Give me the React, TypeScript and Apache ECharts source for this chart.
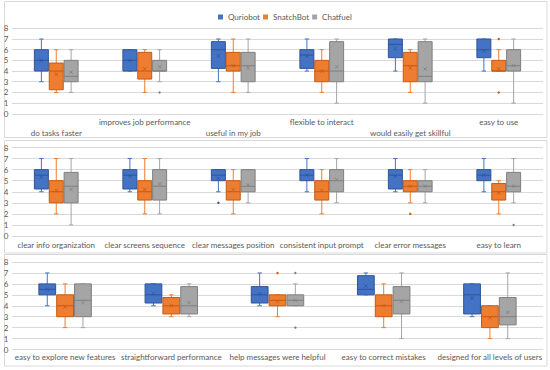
import React, { useEffect, useRef } from "react";
import * as echarts from "echarts";

const seriesNames = ["Quriobot", "SnatchBot", "Chatfuel"];
const COLORS = ["#4472C4", "#ED7D31", "#A5A5A5"];
const BORDERS = ["#2F5597", "#C55A11", "#7F7F7F"];

const categories1 = ["do tasks faster", "improves job performance", "useful in my job", "flexible to interact", "would easily get skillful", "easy to use"];
const categories2 = ["clear info organization", "clear screens sequence", "clear messages position", "consistent input prompt", "clear error messages", "easy to learn"];
const categories3 = ["easy to explore new features", "straightforward performance", "help messages were helpful", "easy to correct mistakes", "designed for all levels of users"];

// [min, q1, median, q3, max]
const quriobot1 = [[3, 4, 5, 6, 7], [4, 4, 5, 6, 6], [3, 4.25, 6, 6.75, 7], [4, 4.25, 5.5, 6, 7], [4, 5.25, 6.5, 7, 7], [4, 5.25, 6, 7, 7]];
const quriobotMean1 = [5.0, 5.0, 5.4, 5.4, 6.1, 5.9];
const quriobotOut1: number[][] = [];
const snatchbot1 = [[2, 2.25, 4, 4.75, 6], [2, 3.25, 4, 5.75, 6], [2, 4, 4.5, 5.75, 7], [2, 3, 4, 5, 6], [2, 3, 4.5, 5.75, 6], [4, 4, 4, 5, 6]];
const snatchbotMean1 = [3.7, 4.2, 4.5, 4.0, 4.3, 4.2];
const snatchbotOut1 = [[5, 7], [5, 2]];
const chatfuel1 = [[2, 3, 3.5, 5, 6], [3, 4, 4, 5, 6], [2, 3, 4.5, 5.75, 7], [1, 3, 4, 6.75, 7], [1, 3, 3.5, 6.75, 7], [1, 4, 4.5, 6, 7]];
const chatfuelMean1 = [3.9, 4.4, 4.3, 4.4, 4.2, 4.5];
const chatfuelOut1 = [[1, 2]];

const quriobot2 = [[4, 4.25, 5.5, 6, 7], [4, 4.25, 5.5, 6, 7], [4, 5, 5.5, 6, 6], [4, 5, 5.5, 6, 7], [4, 4.25, 5.5, 6, 7], [4, 5, 5.5, 6, 7]];
const quriobotMean2 = [5.3, 5.4, 5.2, 5.5, 5.4, 5.5];
const quriobotOut2 = [[2, 3]];
const snatchbot2 = [[2, 3, 4, 5, 7], [2, 3.25, 4, 5, 7], [2, 3.25, 4, 5, 6], [2, 3.25, 4, 5, 6], [3, 4, 4.5, 5, 6], [2, 3.25, 4, 4.75, 5]];
const snatchbotMean2 = [4.1, 4.2, 4.2, 4.1, 4.5, 3.9];
const snatchbotOut2 = [[4, 2]];
const chatfuel2 = [[1, 3, 4.5, 5.75, 7], [2, 3.25, 4.5, 6, 7], [3, 4, 4.5, 6, 6], [3, 4, 5, 6, 7], [3, 4, 4.5, 5, 6], [3, 4, 4.5, 5.75, 7]];
const chatfuelMean2 = [4.2, 4.7, 4.6, 5.1, 4.5, 4.5];
const chatfuelOut2 = [[5, 1]];

const quriobot3 = [[4, 5, 5.5, 6, 7], [4, 4.25, 5, 6, 6], [4, 4.25, 5, 5.75, 7], [5, 5, 5.5, 6.75, 7], [3, 3.25, 5, 6, 6]];
const quriobotMean3 = [5.5, 5.1, 5.1, 5.8, 4.7];
const quriobotOut3: number[][] = [];
const snatchbot3 = [[2, 3, 4, 5, 6], [3, 3.25, 4, 4.75, 5], [3, 4, 4.5, 5, 5], [2, 3, 4, 5, 6], [1, 2, 3, 4, 4]];
const snatchbotMean3 = [3.9, 4.0, 4.4, 4.0, 2.9];
const snatchbotOut3 = [[2, 7]];
const chatfuel3 = [[2, 3, 4.5, 6, 6], [3, 3.25, 4, 5.75, 6], [4, 4, 4.5, 5, 6], [1, 3.25, 4.5, 5.75, 7], [1, 2.25, 3, 4.75, 7]];
const chatfuelMean3 = [4.3, 4.3, 4.5, 4.4, 3.4];
const chatfuelOut3 = [[2, 7], [2, 2]];

const panels = [
  { cats: categories1, stats: [quriobot1, snatchbot1, chatfuel1], means: [quriobotMean1, snatchbotMean1, chatfuelMean1], outs: [quriobotOut1, snatchbotOut1, chatfuelOut1] },
  { cats: categories2, stats: [quriobot2, snatchbot2, chatfuel2], means: [quriobotMean2, snatchbotMean2, chatfuelMean2], outs: [quriobotOut2, snatchbotOut2, chatfuelOut2] },
  { cats: categories3, stats: [quriobot3, snatchbot3, chatfuel3], means: [quriobotMean3, snatchbotMean3, chatfuelMean3], outs: [quriobotOut3, snatchbotOut3, chatfuelOut3] },
];

const gridBoxes = [
  { left: 12, top: 28.3, width: 531, height: 85.5 },
  { left: 12, top: 147.5, width: 531, height: 88.5 },
  { left: 12, top: 262, width: 531, height: 87.5 },
];

function makeBoxRender(k: number) {
  return (params: any, api: any) => {
    const cat = api.value(0);
    const band = api.size([1, 0])[0];
    const w = band * 0.158;
    const cx = api.coord([cat, 0])[0] + (k - 1) * band * 0.168;
    const py = (v: number) => api.coord([cat, v])[1];
    const yMin = py(api.value(1));
    const yQ1 = py(api.value(2));
    const yMed = py(api.value(3));
    const yQ3 = py(api.value(4));
    const yMax = py(api.value(5));
    const yMean = py(api.value(6));
    const cap = 2.2;
    const m = 1.7;
    const wl = { stroke: COLORS[k], lineWidth: 1 };
    const bl = { stroke: BORDERS[k], lineWidth: 1 };
    return {
      type: "group",
      children: [
        { type: "line", shape: { x1: cx, y1: yMax, x2: cx, y2: yQ3 }, style: wl },
        { type: "line", shape: { x1: cx, y1: yQ1, x2: cx, y2: yMin }, style: wl },
        { type: "line", shape: { x1: cx - cap, y1: yMax, x2: cx + cap, y2: yMax }, style: wl },
        { type: "line", shape: { x1: cx - cap, y1: yMin, x2: cx + cap, y2: yMin }, style: wl },
        { type: "rect", shape: { x: cx - w / 2, y: yQ3, width: w, height: yQ1 - yQ3 }, style: { fill: COLORS[k], stroke: BORDERS[k], lineWidth: 1 } },
        { type: "line", shape: { x1: cx - w / 2, y1: yMed, x2: cx + w / 2, y2: yMed }, style: bl },
        { type: "line", shape: { x1: cx - m, y1: yMean - m, x2: cx + m, y2: yMean + m }, style: { stroke: BORDERS[k], lineWidth: 0.8 } },
        { type: "line", shape: { x1: cx - m, y1: yMean + m, x2: cx + m, y2: yMean - m }, style: { stroke: BORDERS[k], lineWidth: 0.8 } },
      ],
    };
  };
}

function makeOutRender(k: number) {
  return (params: any, api: any) => {
    const cat = api.value(0);
    const band = api.size([1, 0])[0];
    const c = api.coord([cat, api.value(1)]);
    return {
      type: "circle",
      shape: { cx: c[0] + (k - 1) * band * 0.168, cy: c[1], r: 1.2 },
      style: { fill: BORDERS[k] },
    };
  };
}

export default function App() {
  const ref = useRef<HTMLDivElement>(null);
  useEffect(() => {
    if (!ref.current) return;
    const chart = echarts.init(ref.current, undefined, { renderer: "svg" });
    const series: any[] = [];
    panels.forEach((p, pi) => {
      seriesNames.forEach((name, k) => {
        series.push({
          type: "custom",
          name,
          xAxisIndex: pi,
          yAxisIndex: pi,
          itemStyle: { color: COLORS[k] },
          renderItem: makeBoxRender(k),
          encode: { x: 0, y: [1, 2, 3, 4, 5, 6] },
          data: p.stats[k].map((s, i) => [i, ...s, p.means[k][i]]),
          z: 2,
        });
        series.push({
          type: "custom",
          name,
          xAxisIndex: pi,
          yAxisIndex: pi,
          itemStyle: { color: COLORS[k] },
          renderItem: makeOutRender(k),
          encode: { x: 0, y: 1 },
          data: p.outs[k],
          z: 3,
        });
      });
    });
    const labelMargins = [2.7, 3.5, 2.2];
    const option: any = {
      animation: false,
      textStyle: { fontFamily: "Lato" },
      graphic: [
        { type: "rect", shape: { x: 4.5, y: 1.5, width: 542.5, height: 136 }, style: { fill: "none", stroke: "#D9D9D9", lineWidth: 1 } },
        { type: "rect", shape: { x: 4.5, y: 140.5, width: 542.5, height: 112.5 }, style: { fill: "none", stroke: "#D9D9D9", lineWidth: 1 } },
        { type: "rect", shape: { x: 4.5, y: 254.5, width: 542.5, height: 111.5 }, style: { fill: "none", stroke: "#D9D9D9", lineWidth: 1 } },
      ],
      legend: {
        top: 8,
        left: 213,
        itemWidth: 5,
        itemHeight: 5,
        itemGap: 3,
        textStyle: { fontSize: 8, color: "#595959" },
        data: seriesNames.map((n, i) => ({ name: n, icon: "rect", itemStyle: { color: COLORS[i] } })),
      },
      grid: gridBoxes,
      xAxis: panels.map((p, pi) => ({
        type: "category",
        gridIndex: pi,
        data: p.cats,
        axisLine: { show: false },
        axisTick: { show: false },
        splitLine: { show: false },
        axisLabel: {
          interval: 0,
          fontSize: 8,
          color: "#595959",
          margin: labelMargins[pi],
          lineHeight: 11,
          formatter: pi === 0 ? (v: string, i: number) => (i % 2 === 0 ? "\n" + v : v) : undefined,
        },
      })),
      yAxis: panels.map((p, pi) => ({
        type: "value",
        gridIndex: pi,
        min: 0,
        max: 8,
        interval: 1,
        axisLine: { show: false },
        axisTick: { show: false },
        splitLine: { lineStyle: { color: "#D9D9D9", width: 1 } },
        axisLabel: { fontSize: 8, color: "#595959", margin: 3.5 },
      })),
      series,
    };
    chart.setOption(option);
    return () => chart.dispose();
  }, []);
  return (
    <div
      ref={ref}
      style={{ position: "absolute", left: 0, top: 0, width: 550, height: 370, background: "#fff" }}
    />
  );
}
